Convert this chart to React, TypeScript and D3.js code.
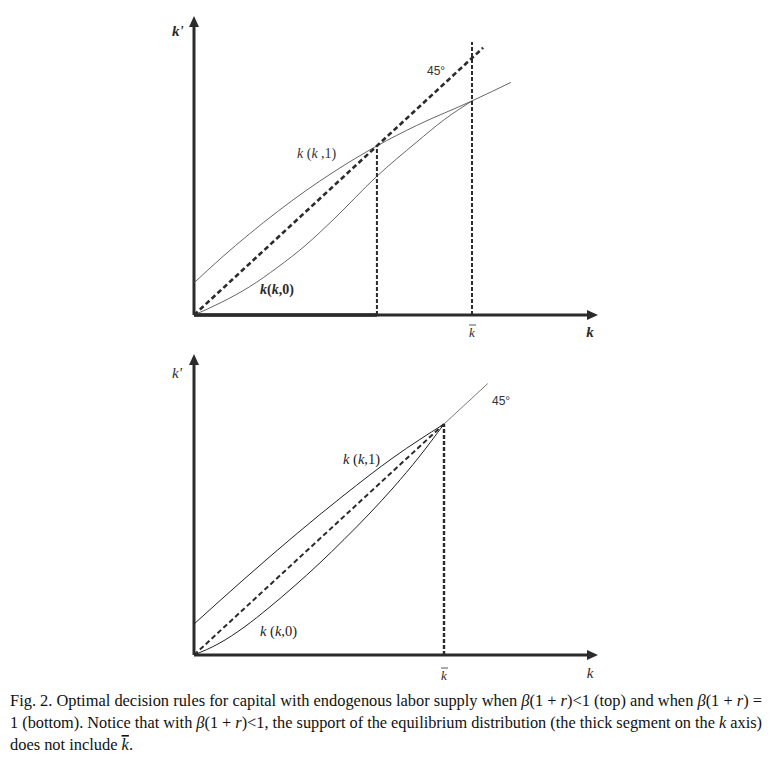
import React from 'react';
import * as d3 from 'd3';

// top panel: beta(1+r) < 1, k-bar = 1
const topK1x = [0, 0.1, 0.2, 0.3, 0.4, 0.5, 0.658, 0.8, 1.0, 1.14];
const topK1y = [0.125, 0.224, 0.316, 0.402, 0.482, 0.555, 0.658, 0.737, 0.833, 0.905];
const topK0x = [0, 0.1, 0.2, 0.3, 0.4, 0.5, 0.658, 0.8, 0.9, 1.0];
const topK0y = [0, 0.05, 0.11, 0.185, 0.27, 0.37, 0.54, 0.672, 0.76, 0.833];
const topDiagEnd = 1.04;
const topKstar = 0.658;
const topKbarTop = 1.062;

// bottom panel: beta(1+r) = 1
const botK1x = [0, 0.2, 0.4, 0.6, 0.8, 1.0];
const botK1y = [0.134, 0.328, 0.515, 0.692, 0.857, 1.0];
const botK0x = [0, 0.1, 0.2, 0.3, 0.4, 0.5, 0.6, 0.7, 0.8, 0.9, 1.0];
const botK0y = [0, 0.05, 0.12, 0.205, 0.297, 0.395, 0.5, 0.61, 0.728, 0.857, 1.0];
const botLineEnd = 1.175;

const serif = '"Liberation Serif", "Times New Roman", serif';
const sans = '"Liberation Sans", Arial, sans-serif';
const ink = '#2b2b2b';

const zip = (xs: number[], ys: number[]) => xs.map((x, i) => [x, ys[i]] as [number, number]);

function Arrows({ x0, y0, x1, y1 }: { x0: number; y0: number; x1: number; y1: number }) {
  return (
    <g fill={ink}>
      <line x1={x0} y1={y0} x2={x0} y2={y1 + 8} stroke={ink} strokeWidth={3} />
      <line x1={x0} y1={y0} x2={x1 - 8} y2={y0} stroke={ink} strokeWidth={3} />
      <path d={`M${x0 - 5},${y1 + 11} L${x0},${y1} L${x0 + 5},${y1 + 11} Z`} />
      <path d={`M${x1 - 11},${y0 - 5} L${x1},${y0} L${x1 - 11},${y0 + 5} Z`} />
    </g>
  );
}

function KBar({ x, y }: { x: number; y: number }) {
  return (
    <g>
      <line x1={x - 3} y1={y - 12} x2={x + 4} y2={y - 12} stroke={ink} strokeWidth={0.8} />
      <text x={x} y={y} fontFamily={serif} fontStyle="italic" fontSize={13} textAnchor="middle" fill={ink}>k</text>
    </g>
  );
}

function TopPanel() {
  const x = d3.scaleLinear().domain([0, 1]).range([194, 472]);
  const y = d3.scaleLinear().domain([0, 1]).range([315, 58]);
  const line = d3.line<[number, number]>().x(d => x(d[0])).y(d => y(d[1])).curve(d3.curveMonotoneX);
  return (
    <g>
      <Arrows x0={x(0)} y0={y(0)} x1={598} y1={16} />
      <line x1={x(0)} y1={y(0)} x2={x(topKstar)} y2={y(0)} stroke={ink} strokeWidth={3.6} />
      <path d={line(zip(topK1x, topK1y)) || ''} fill="none" stroke="#555" strokeWidth={0.9} />
      <path d={line(zip(topK0x, topK0y)) || ''} fill="none" stroke="#555" strokeWidth={0.9} />
      <line x1={x(0)} y1={y(0)} x2={x(topDiagEnd)} y2={y(topDiagEnd)} stroke={ink} strokeWidth={2.6} strokeDasharray="5,3" />
      <line x1={x(topKstar)} y1={y(0)} x2={x(topKstar)} y2={y(topKstar)} stroke={ink} strokeWidth={2} strokeDasharray="4,2" />
      <line x1={x(1)} y1={y(0)} x2={x(1)} y2={y(topKbarTop)} stroke={ink} strokeWidth={2} strokeDasharray="4,2" />
      <text x={427} y={75} fontFamily={sans} fontSize={12} fill="#333">45°</text>
      <text x={297} y={158} fontFamily={serif} fontSize={14} fill="#333">
        <tspan fontStyle="italic">k</tspan> (<tspan fontStyle="italic">k</tspan> ,1)
      </text>
      <text x={260} y={294} fontFamily={serif} fontSize={14} fontWeight="bold" fill={ink}>
        <tspan fontStyle="italic">k</tspan>(<tspan fontStyle="italic">k</tspan>,0)
      </text>
      <text x={172} y={36} fontFamily={serif} fontSize={15} fontWeight="bold" fontStyle="italic" fill={ink}>k'</text>
      <KBar x={x(1)} y={337} />
      <text x={590} y={337} fontFamily={serif} fontSize={15} fontWeight="bold" fontStyle="italic" textAnchor="middle" fill={ink}>k</text>
    </g>
  );
}

function BottomPanel() {
  const x = d3.scaleLinear().domain([0, 1]).range([194, 444]);
  const y = d3.scaleLinear().domain([0, 1]).range([655, 424]);
  const line = d3.line<[number, number]>().x(d => x(d[0])).y(d => y(d[1])).curve(d3.curveMonotoneX);
  return (
    <g>
      <Arrows x0={x(0)} y0={y(0)} x1={598} y1={354} />
      <path d={line(zip(botK1x, botK1y)) || ''} fill="none" stroke="#222" strokeWidth={1} />
      <path d={line(zip(botK0x, botK0y)) || ''} fill="none" stroke="#222" strokeWidth={1} />
      <line x1={x(0)} y1={y(0)} x2={x(1)} y2={y(1)} stroke={ink} strokeWidth={2} strokeDasharray="5,3" />
      <line x1={x(1)} y1={y(1)} x2={x(botLineEnd)} y2={y(botLineEnd)} stroke="#555" strokeWidth={0.8} />
      <line x1={x(1)} y1={y(0)} x2={x(1)} y2={y(1)} stroke={ink} strokeWidth={2.4} strokeDasharray="4,2" />
      <text x={492} y={405} fontFamily={sans} fontSize={12} fill="#333">45°</text>
      <text x={343} y={464} fontFamily={serif} fontSize={14.5} fill="#222">
        <tspan fontStyle="italic">k</tspan> (<tspan fontStyle="italic">k</tspan>,1)
      </text>
      <text x={260} y={636} fontFamily={serif} fontSize={14.5} fill="#222">
        <tspan fontStyle="italic">k</tspan> (<tspan fontStyle="italic">k</tspan>,0)
      </text>
      <text x={172} y={378} fontFamily={serif} fontSize={15} fontStyle="italic" fill={ink}>k'</text>
      <KBar x={x(1)} y={680} />
      <text x={590} y={678} fontFamily={serif} fontSize={15} fontStyle="italic" textAnchor="middle" fill={ink}>k</text>
    </g>
  );
}

export default function App() {
  const it = { fontStyle: 'italic' as const };
  return (
    <svg width={776} height={776} style={{ position: 'absolute', left: 0, top: 0, background: '#fff' }}>
      <TopPanel />
      <BottomPanel />
      <g fontFamily={serif} fontSize={16} fill="#111">
        <text x={10} y={706} textLength={752} lengthAdjust="spacingAndGlyphs">
          Fig. 2.  Optimal decision rules for capital with endogenous labor supply when <tspan {...it}>β</tspan>(1 + <tspan {...it}>r</tspan>){'<'}1 (top) and when <tspan {...it}>β</tspan>(1 + <tspan {...it}>r</tspan>) =
        </text>
        <text x={10} y={728} textLength={752} lengthAdjust="spacingAndGlyphs">
          1 (bottom). Notice that with <tspan {...it}>β</tspan>(1 + <tspan {...it}>r</tspan>){'<'}1, the support of the equilibrium distribution (the thick segment on the <tspan {...it}>k</tspan> axis)
        </text>
        <text x={10} y={750} textLength={123} lengthAdjust="spacingAndGlyphs">
          does not include <tspan {...it} textDecoration="overline">k</tspan>.
        </text>
      </g>
    </svg>
  );
}
